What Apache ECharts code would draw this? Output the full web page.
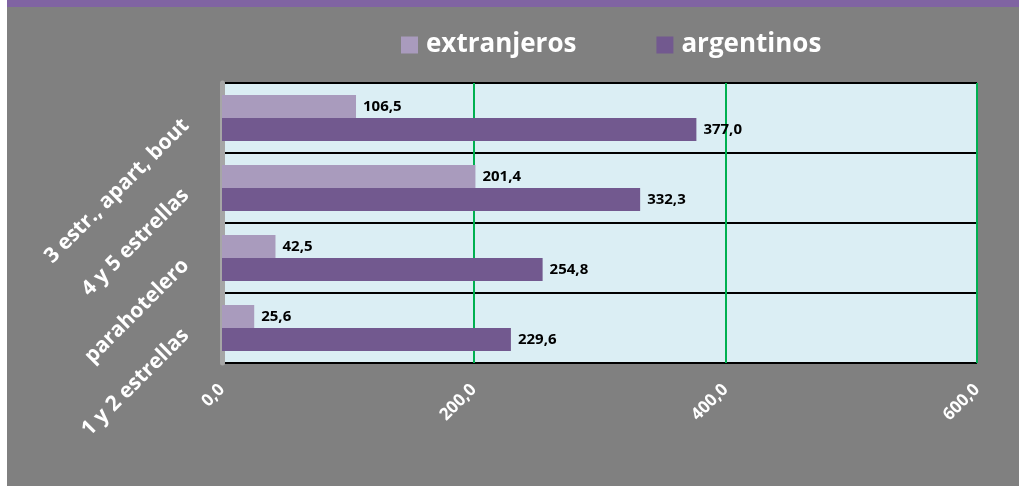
<!DOCTYPE html>
<html>
<head>
<meta charset="utf-8">
<script src="https://cdn.jsdelivr.net/npm/echarts@6/dist/echarts.min.js"></script>
<style>
  html, body { margin: 0; padding: 0; background: #fff; }
  #chart { width: 1019px; height: 486px; }
</style>
</head>
<body>
<div id="chart"></div>
<script>
// categorias (de arriba hacia abajo)
var categorias = ['3 estr., apart, bout', '4 y 5 estrellas', 'parahotelero', '1 y 2 estrellas'];
var extranjeros = [106.5, 201.4, 42.5, 25.6];
var argentinos = [377.0, 332.3, 254.8, 229.6];
var ejeMin = 0, ejeMax = 600, ejeIntervalo = 200;

function coma(v) {
    return Number(v).toFixed(1).replace('.', ',');
}

var myChart = echarts.init(document.getElementById('chart'));

var fuente = '"Open Sans", "DejaVu Sans", sans-serif';

var option = {
    backgroundColor: '#808080',
    animation: false,
    color: ['#a99bbd', '#72598f'],
    graphic: [
        // franja blanca a la izquierda
        { type: 'rect', left: 0, top: 0, shape: { width: 7, height: 486 }, style: { fill: '#ffffff' }, z: 100 },
        // franja violeta arriba
        { type: 'rect', left: 7, top: 0, shape: { width: 1012, height: 7 }, style: { fill: '#8064a2' }, z: 100 }
    ],
    legend: {
        left: 396,
        top: 27,
        itemWidth: 17,
        itemHeight: 17,
        itemGap: 80,
        icon: 'rect',
        textStyle: {
            color: '#ffffff',
            fontFamily: fuente,
            fontWeight: 'bold',
            fontSize: 26,
            padding: [0, 0, 0, 3]
        },
        data: ['extranjeros', 'argentinos']
    },
    grid: {
        show: true,
        left: 222,
        right: 42,
        top: 83,
        bottom: 123,
        backgroundColor: '#dbeef4',
        borderWidth: 0,
        containLabel: false
    },
    xAxis: {
        type: 'value',
        min: ejeMin,
        max: ejeMax,
        interval: ejeIntervalo,
        axisLine: { show: false },
        axisTick: { show: false },
        splitLine: {
            show: true,
            showMinLine: false,
            lineStyle: { color: '#00b050', width: 2 }
        },
        axisLabel: {
            rotate: 45,
            margin: 24,
            color: '#ffffff',
            fontFamily: fuente,
            fontWeight: 'bold',
            fontSize: 17,
            formatter: coma
        }
    },
    yAxis: {
        type: 'category',
        inverse: true,
        offset: 3,
        data: categorias,
        axisLine: { show: true, lineStyle: { color: '#a6a6a6', width: 5 } },
        axisTick: { show: false },
        splitLine: {
            show: true,
            lineStyle: { color: '#000000', width: 2 }
        },
        axisLabel: {
            interval: 0,
            rotate: 45,
            margin: 29,
            padding: [0, 6, 0, 0],
            color: '#ffffff',
            fontFamily: fuente,
            fontWeight: 'bold',
            fontSize: 21
        }
    },
    series: [
        {
            name: 'extranjeros',
            type: 'bar',
            barWidth: 23,
            barGap: '0%',
            data: extranjeros,
            label: {
                show: true,
                position: 'right',
                distance: 7,
                color: '#000000',
                fontFamily: fuente,
                fontWeight: 'bold',
                fontSize: 15,
                formatter: function (p) { return coma(p.value); }
            }
        },
        {
            name: 'argentinos',
            type: 'bar',
            barWidth: 23,
            barGap: '0%',
            data: argentinos,
            label: {
                show: true,
                position: 'right',
                distance: 7,
                color: '#000000',
                fontFamily: fuente,
                fontWeight: 'bold',
                fontSize: 15,
                formatter: function (p) { return coma(p.value); }
            }
        }
    ]
};

myChart.setOption(option);
</script>
</body>
</html>
